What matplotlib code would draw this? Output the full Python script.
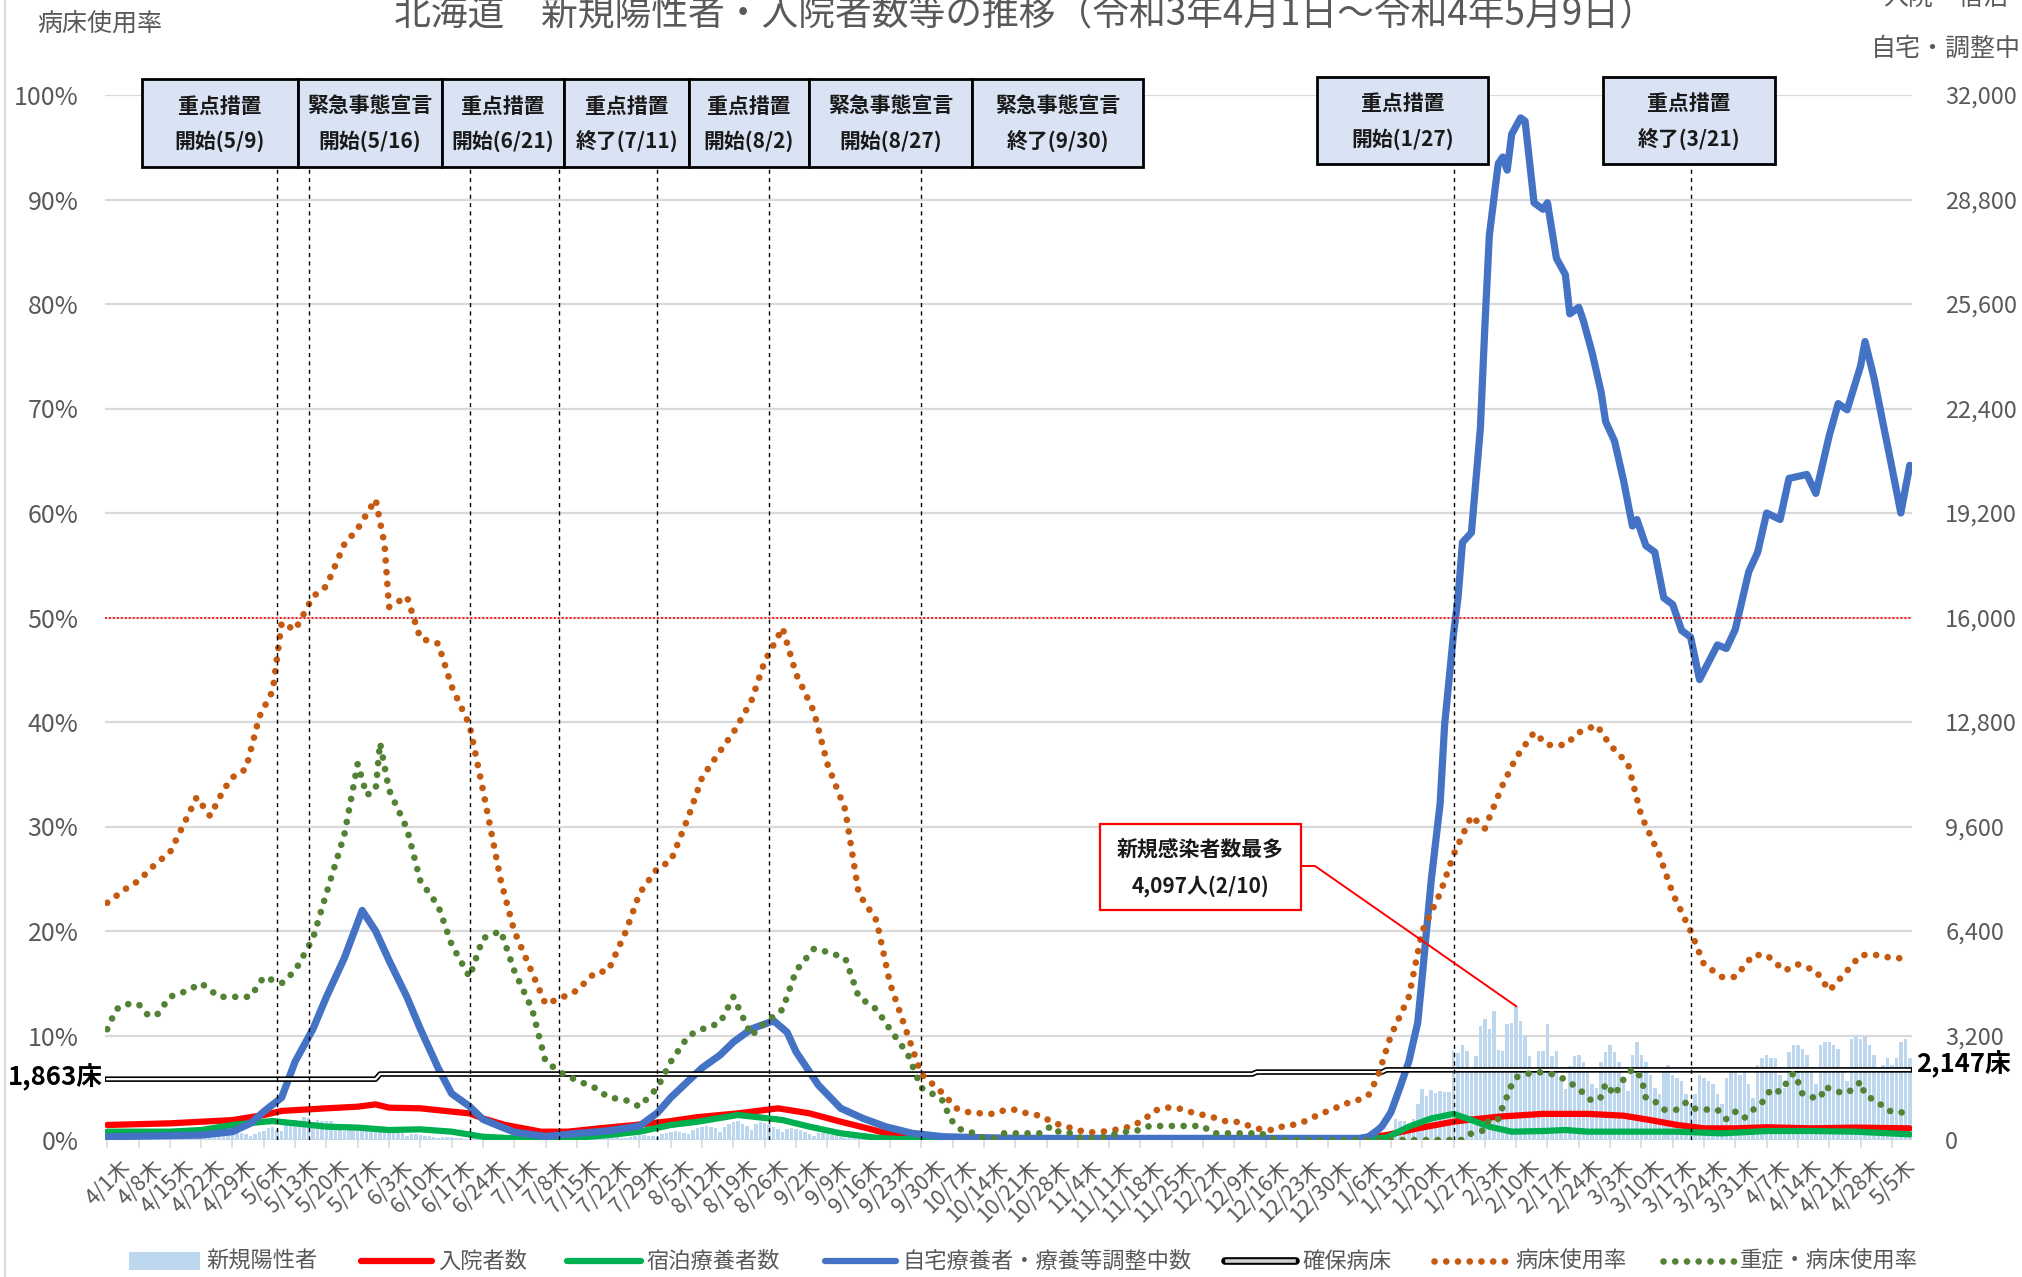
import numpy as np
import pandas as pd
import matplotlib
matplotlib.use("Agg")
import matplotlib.pyplot as plt
import matplotlib.transforms as mtransforms
from matplotlib.patches import Rectangle
from matplotlib.lines import Line2D

plt.rcParams['font.family'] = ['Noto Sans CJK JP', 'DejaVu Sans']

START = pd.Timestamp('2021-04-01')
END = pd.Timestamp('2022-05-09')

TITLE = '北海道　新規陽性者・入院者数等の推移（令和3年4月1日～令和4年5月9日）'

# ---------------- data ----------------
# daily new positives (weeks starting Thursday 4/1)
new_cases_weeks = [
    [60, 71, 77, 61, 43, 93, 105],
    [108, 99, 101, 83, 52, 115, 128],
    [135, 122, 148, 113, 75, 159, 170],
    [176, 164, 175, 140, 109, 197, 221],
    [232, 226, 200, 174, 137, 187, 242],
    [263, 381, 403, 304, 267, 451, 513],
    [600, 555, 712, 660, 404, 623, 568],
    [588, 575, 502, 416, 275, 460, 474],
    [438, 384, 398, 354, 238, 306, 326],
    [303, 276, 254, 203, 133, 182, 191],
    [163, 131, 136, 104, 59, 89, 105],
    [85, 70, 66, 42, 30, 55, 62],
    [58, 55, 41, 30, 21, 37, 45],
    [37, 32, 34, 28, 16, 31, 40],
    [38, 42, 35, 37, 22, 46, 52],
    [56, 64, 48, 41, 30, 62, 74],
    [77, 95, 82, 66, 48, 92, 119],
    [139, 150, 135, 117, 92, 175, 217],
    [243, 270, 231, 206, 170, 301, 374],
    [398, 425, 412, 368, 258, 407, 499],
    [540, 581, 498, 431, 314, 479, 564],
    [527, 478, 412, 346, 230, 336, 382],
    [338, 301, 247, 195, 124, 209, 225],
    [195, 168, 147, 103, 67, 123, 133],
    [115, 94, 76, 52, 36, 54, 66],
    [47, 40, 36, 30, 18, 30, 38],
    [34, 27, 22, 21, 12, 20, 22],
    [20, 18, 15, 11, 8, 15, 16],
    [17, 14, 12, 9, 6, 12, 14],
    [15, 12, 10, 8, 5, 10, 11],
    [12, 9, 8, 7, 4, 9, 10],
    [9, 8, 7, 6, 4, 8, 9],
    [10, 9, 8, 6, 5, 11, 14],
    [16, 18, 20, 15, 11, 22, 25],
    [24, 22, 19, 14, 9, 18, 20],
    [18, 15, 13, 10, 6, 12, 14],
    [12, 10, 9, 7, 5, 9, 10],
    [9, 8, 7, 6, 4, 7, 8],
    [8, 7, 6, 5, 4, 6, 8],
    [10, 9, 12, 8, 6, 18, 25],
    [45, 60, 78, 70, 52, 140, 225],
    [275, 630, 580, 580, 430, 630, 1090],
    [1550, 1350, 1530, 1450, 1500, 1470, 1470],
    [2720, 2670, 2900, 2720, 2160, 2570, 3490],
    [3690, 3390, 3950, 2770, 2720, 3540, 3570],
    [4097, 3640, 3180, 2570, 2160, 2720, 2720],
    [3540, 2570, 2720, 1860, 1550, 2260, 2570],
    [2600, 2400, 2100, 1700, 1600, 2400, 2700],
    [2900, 2700, 2400, 1800, 1500, 2600, 3000],
    [2600, 2400, 2000, 1600, 1400, 2100, 2300],
    [2000, 1900, 1800, 1400, 1100, 1400, 2000],
    [1900, 1800, 1700, 1400, 1100, 1900, 2100],
    [2100, 2000, 2100, 1700, 1300, 2300, 2500],
    [2600, 2500, 2500, 2000, 1600, 2700, 2900],
    [2900, 2800, 2600, 2100, 1700, 2900, 3000],
    [3000, 2900, 2800, 2200, 1800, 3100, 3200],
    [3100, 3200, 2900, 2600, 2100, 2300, 2500],
    [2300, 2500, 3000, 3100, 2500],
]

# 入院者数
hosp_dates = ['2021-04-01', '2021-04-15', '2021-04-29', '2021-05-06', '2021-05-10', '2021-05-20',
              '2021-05-27', '2021-05-31', '2021-06-03', '2021-06-10', '2021-06-17', '2021-06-21',
              '2021-06-24', '2021-06-29', '2021-07-07', '2021-07-13', '2021-07-20', '2021-07-28',
              '2021-08-05', '2021-08-11', '2021-08-20', '2021-08-29', '2021-09-05', '2021-09-12',
              '2021-09-18', '2021-09-23', '2021-09-28', '2021-10-07', '2021-10-21', '2021-11-18',
              '2021-12-16', '2022-01-06', '2022-01-12', '2022-01-19', '2022-01-27', '2022-01-30',
              '2022-02-06', '2022-02-16', '2022-02-26', '2022-03-06', '2022-03-12', '2022-03-18',
              '2022-03-24', '2022-03-31', '2022-04-07', '2022-04-17', '2022-04-27', '2022-05-09']
hosp_vals = [460, 510, 610, 765, 890, 970,
             1020, 1090, 990, 970, 870, 815,
             660, 460, 255, 255, 357, 460,
             580, 700, 816, 970, 816, 560,
             357, 175, 100, 70, 60, 50,
             50, 40, 150, 357, 560, 610,
             714, 800, 800, 745, 610, 460,
             357, 357, 390, 357, 380, 357]

# 宿泊療養者数
hotel_dates = ['2021-04-01', '2021-04-15', '2021-04-22', '2021-04-29', '2021-05-06', '2021-05-08',
               '2021-05-13', '2021-05-20', '2021-05-27', '2021-06-03', '2021-06-10', '2021-06-17',
               '2021-06-24', '2021-07-01', '2021-07-08', '2021-07-15', '2021-07-22', '2021-07-29',
               '2021-08-05', '2021-08-11', '2021-08-20', '2021-08-27', '2021-08-30', '2021-09-05',
               '2021-09-12', '2021-09-20', '2021-09-25', '2021-10-07', '2021-12-20', '2022-01-06',
               '2022-01-12', '2022-01-17', '2022-01-22', '2022-01-27', '2022-01-30', '2022-02-04',
               '2022-02-09', '2022-02-16', '2022-02-21', '2022-02-26', '2022-03-18', '2022-03-28',
               '2022-04-07', '2022-04-17', '2022-04-27', '2022-05-09']
hotel_vals = [255, 255, 306, 460, 560, 580,
              510, 408, 380, 306, 326, 255,
              100, 50, 50, 70, 150, 255,
              460, 560, 765, 660, 610, 408,
              204, 70, 30, 15, 10, 30,
              70, 408, 660, 800, 660, 408,
              255, 275, 306, 255, 255, 204,
              275, 275, 255, 173]

# 自宅療養者・療養等調整中数
home_dates = ['2021-04-01', '2021-04-22', '2021-04-29', '2021-05-03', '2021-05-06', '2021-05-10',
              '2021-05-13', '2021-05-17', '2021-05-20', '2021-05-24', '2021-05-26', '2021-05-28',
              '2021-05-31', '2021-06-03', '2021-06-07', '2021-06-10', '2021-06-14', '2021-06-17',
              '2021-06-21', '2021-06-24', '2021-07-01', '2021-07-08', '2021-07-15', '2021-07-22',
              '2021-07-29', '2021-08-02', '2021-08-05', '2021-08-09', '2021-08-12', '2021-08-16',
              '2021-08-19', '2021-08-23', '2021-08-28', '2021-08-31', '2021-09-02', '2021-09-07',
              '2021-09-12', '2021-09-17', '2021-09-22', '2021-09-28', '2021-10-05', '2021-10-20',
              '2021-12-20', '2022-01-06', '2022-01-08', '2022-01-10', '2022-01-11', '2022-01-13',
              '2022-01-15', '2022-01-17', '2022-01-19', '2022-01-20', '2022-01-22', '2022-01-24',
              '2022-01-25', '2022-01-27', '2022-01-28', '2022-01-29', '2022-01-31', '2022-02-02',
              '2022-02-03', '2022-02-04', '2022-02-06', '2022-02-07', '2022-02-08', '2022-02-09',
              '2022-02-11', '2022-02-12', '2022-02-14', '2022-02-16', '2022-02-17', '2022-02-19',
              '2022-02-21', '2022-02-22', '2022-02-24', '2022-02-25', '2022-02-27', '2022-03-01',
              '2022-03-02', '2022-03-04', '2022-03-06', '2022-03-08', '2022-03-09', '2022-03-11',
              '2022-03-13', '2022-03-15', '2022-03-17', '2022-03-19', '2022-03-21', '2022-03-23',
              '2022-03-27', '2022-03-29', '2022-03-31', '2022-04-03', '2022-04-05', '2022-04-07',
              '2022-04-10', '2022-04-12', '2022-04-16', '2022-04-18', '2022-04-21', '2022-04-23',
              '2022-04-25', '2022-04-28', '2022-04-29', '2022-05-01', '2022-05-03', '2022-05-05',
              '2022-05-07', '2022-05-09']
home_vals = [100, 150, 255, 510, 870, 1300,
             2400, 3400, 4380, 5570, 6300, 7030,
             6400, 5500, 4380, 3400, 2200, 1420,
             1030, 630, 240, 110, 200, 280,
             430, 830, 1300, 1820, 2210, 2600,
             3000, 3400, 3650, 3300, 2700, 1680,
             970, 660, 408, 204, 100, 50,
             50, 50, 100, 300, 420, 850,
             1600, 2400, 3600, 5000, 7940, 10300,
             12700, 15500, 16600, 18300, 18600, 21800,
             24900, 27700, 29900, 30100, 29700, 30800,
             31300, 31200, 28700, 28500, 28700, 27000,
             26500, 25300, 25500, 25100, 24100, 22900,
             22000, 21400, 20200, 18800, 19000, 18200,
             18000, 16600, 16400, 15600, 15400, 14100,
             15160, 15050, 15640, 17400, 18000, 19200,
             19000, 20260, 20380, 19800, 21570, 22550,
             22360, 23700, 24450, 23340, 21960, 20600,
             19200, 20660]

# 確保病床 (step changes)
cap_dates = ['2021-04-01', '2021-06-01', '2021-12-14', '2022-01-12']
cap_vals = [1863, 2020, 2080, 2147]

# 病床使用率 (%)
bed_dates = ['2021-04-01', '2021-04-05', '2021-04-08', '2021-04-12', '2021-04-15', '2021-04-19',
             '2021-04-21', '2021-04-24', '2021-04-27', '2021-04-29', '2021-05-02', '2021-05-05',
             '2021-05-08', '2021-05-10', '2021-05-13', '2021-05-17', '2021-05-20', '2021-05-24',
             '2021-05-27', '2021-05-31', '2021-06-02', '2021-06-03', '2021-06-07', '2021-06-10',
             '2021-06-14', '2021-06-17', '2021-06-21', '2021-06-24', '2021-06-28', '2021-07-01',
             '2021-07-05', '2021-07-08', '2021-07-12', '2021-07-15', '2021-07-19', '2021-07-22',
             '2021-07-26', '2021-07-29', '2021-08-02', '2021-08-05', '2021-08-09', '2021-08-12',
             '2021-08-16', '2021-08-19', '2021-08-23', '2021-08-26', '2021-08-30', '2021-09-02',
             '2021-09-06', '2021-09-09', '2021-09-13', '2021-09-16', '2021-09-20', '2021-09-23',
             '2021-09-27', '2021-09-30', '2021-10-04', '2021-10-08', '2021-10-11', '2021-10-16',
             '2021-10-19', '2021-10-21', '2021-10-24', '2021-10-27', '2021-10-29', '2021-11-01',
             '2021-11-03', '2021-11-06', '2021-11-11', '2021-11-16', '2021-11-19', '2021-11-21',
             '2021-11-24', '2021-11-26', '2021-11-29', '2021-12-01', '2021-12-04', '2021-12-07',
             '2021-12-09', '2021-12-12', '2021-12-15', '2021-12-18', '2021-12-20', '2021-12-23',
             '2021-12-26', '2021-12-28', '2021-12-31', '2022-01-02', '2022-01-05', '2022-01-08',
             '2022-01-10', '2022-01-13', '2022-01-17', '2022-01-20', '2022-01-24', '2022-01-27',
             '2022-01-31', '2022-02-03', '2022-02-07', '2022-02-10', '2022-02-14', '2022-02-17',
             '2022-02-21', '2022-02-24', '2022-02-28', '2022-03-03', '2022-03-07', '2022-03-10',
             '2022-03-14', '2022-03-17', '2022-03-21', '2022-03-24', '2022-03-28', '2022-03-31',
             '2022-04-04', '2022-04-07', '2022-04-11', '2022-04-14', '2022-04-18', '2022-04-21',
             '2022-04-25', '2022-04-28', '2022-05-02', '2022-05-05', '2022-05-09']
bed_vals = [22.7, 24.0, 24.8, 26.5, 27.5, 31.0,
            32.8, 31.0, 33.5, 34.7, 35.5, 40.5,
            43.0, 49.5, 48.8, 52.0, 53.0, 57.0,
            58.5, 61.3, 57.0, 51.0, 52.0, 48.0,
            47.5, 43.4, 39.7, 33.5, 24.8, 20.0,
            16.0, 13.0, 13.7, 14.3, 16.0, 16.2,
            20.0, 23.6, 26.0, 26.7, 31.0, 34.7,
            37.2, 39.0, 42.0, 45.8, 49.0, 44.6,
            41.0, 36.0, 31.6, 23.6, 21.0, 15.0,
            10.0, 6.3, 4.8, 3.0, 2.6, 2.5,
            2.9, 2.9, 2.5, 2.3, 1.75, 1.3,
            1.1, 0.7, 0.85, 1.3, 2.0, 2.8,
            3.1, 3.1, 2.7, 2.5, 2.2, 1.8,
            1.8, 1.4, 1.0, 0.95, 1.35, 1.5,
            2.0, 2.5, 2.9, 3.4, 3.7, 4.3,
            6.0, 10.0, 13.7, 20.0, 23.6, 27.3,
            31.0, 29.8, 34.0, 36.6, 39.0, 37.8,
            37.8, 39.0, 39.7, 37.8, 36.0, 31.0,
            27.3, 23.6, 20.0, 16.8, 15.6, 15.6,
            17.7, 17.7, 16.2, 16.8, 16.2, 14.3,
            16.2, 17.7, 17.7, 17.4, 17.4]

# 重症・病床使用率 (%)
sev_dates = ['2021-04-01', '2021-04-03', '2021-04-05', '2021-04-08', '2021-04-10', '2021-04-12',
             '2021-04-15', '2021-04-19', '2021-04-22', '2021-04-26', '2021-04-29', '2021-05-03',
             '2021-05-06', '2021-05-10', '2021-05-13', '2021-05-17', '2021-05-20', '2021-05-24',
             '2021-05-27', '2021-05-29', '2021-05-31', '2021-06-01', '2021-06-03', '2021-06-07',
             '2021-06-10', '2021-06-14', '2021-06-17', '2021-06-21', '2021-06-24', '2021-06-28',
             '2021-07-01', '2021-07-05', '2021-07-08', '2021-07-12', '2021-07-15', '2021-07-19',
             '2021-07-22', '2021-07-26', '2021-07-29', '2021-08-02', '2021-08-05', '2021-08-09',
             '2021-08-12', '2021-08-16', '2021-08-19', '2021-08-23', '2021-08-26', '2021-08-30',
             '2021-09-02', '2021-09-06', '2021-09-09', '2021-09-13', '2021-09-16', '2021-09-20',
             '2021-09-23', '2021-09-27', '2021-09-30', '2021-10-03', '2021-10-05', '2021-10-06',
             '2021-10-07', '2021-10-09', '2021-10-12', '2021-10-14', '2021-10-16', '2021-10-18',
             '2021-10-27', '2021-10-29', '2021-10-31', '2021-11-03', '2021-11-05', '2021-11-08',
             '2021-11-10', '2021-11-13', '2021-11-15', '2021-11-18', '2021-11-20', '2021-12-02',
             '2021-12-04', '2021-12-15', '2021-12-17', '2021-12-20', '2022-01-29', '2022-01-31',
             '2022-02-03', '2022-02-04', '2022-02-06', '2022-02-07', '2022-02-08', '2022-02-09',
             '2022-02-10', '2022-02-12', '2022-02-15', '2022-02-18', '2022-02-21', '2022-02-24',
             '2022-02-26', '2022-02-27', '2022-03-01', '2022-03-02', '2022-03-04', '2022-03-06',
             '2022-03-08', '2022-03-10', '2022-03-11', '2022-03-13', '2022-03-15', '2022-03-18',
             '2022-03-20', '2022-03-22', '2022-03-25', '2022-03-27', '2022-03-29', '2022-03-31',
             '2022-04-02', '2022-04-04', '2022-04-06', '2022-04-07', '2022-04-08', '2022-04-10',
             '2022-04-12', '2022-04-13', '2022-04-14', '2022-04-15', '2022-04-17', '2022-04-19',
             '2022-04-20', '2022-04-23', '2022-04-25', '2022-04-27', '2022-04-28', '2022-04-29',
             '2022-05-02', '2022-05-04', '2022-05-07', '2022-05-09']
sev_vals = [10.6, 12.5, 13.0, 13.0, 12.0, 11.9,
            13.7, 14.3, 15.0, 13.7, 13.7, 13.7,
            15.6, 15.0, 16.2, 19.3, 23.6, 29.2,
            36.0, 33.0, 33.5, 38.0, 33.5, 29.8,
            24.8, 22.4, 18.7, 15.6, 19.3, 20.0,
            16.2, 12.5, 7.5, 6.3, 5.7, 5.0,
            4.1, 3.8, 3.2, 5.0, 7.5, 10.0,
            10.6, 11.2, 13.7, 10.0, 11.2, 12.5,
            16.2, 18.3, 18.0, 17.4, 13.7, 12.5,
            10.6, 8.2, 5.0, 4.3, 3.7, 2.5,
            1.75, 0.95, 0.64, 0.16, 0.1, 0.64,
            0.64, 1.34, 0.7, 0.64, 0.1, 0.16,
            0.3, 0.64, 0.8, 0.95, 1.34, 1.34,
            0.64, 0.64, 0.16, 0.0, 0.0, 0.64,
            0.95, 2.0, 2.0, 3.2, 4.2, 5.3,
            6.0, 6.3, 6.5, 6.3, 5.8, 4.9,
            4.1, 3.7, 4.1, 5.4, 4.3, 5.8,
            6.8, 6.0, 4.0, 3.7, 2.9, 2.9,
            3.6, 3.0, 2.9, 2.9, 2.0, 2.7,
            2.1, 2.9, 3.6, 4.2, 4.9, 4.6,
            5.8, 6.4, 5.6, 4.4, 4.1, 4.0,
            5.1, 4.6, 4.5, 5.1, 5.6, 4.3,
            3.6, 2.8, 2.7, 2.0]

event_dates = ['2021-05-09', '2021-05-16', '2021-06-21', '2021-07-11', '2021-08-02',
               '2021-08-27', '2021-09-30', '2022-01-27', '2022-03-21']
event_titles = ['重点措置', '緊急事態宣言', '重点措置', '重点措置', '重点措置',
                '緊急事態宣言', '緊急事態宣言', '重点措置', '重点措置']
event_subs = ['開始(5/9)', '開始(5/16)', '開始(6/21)', '終了(7/11)', '開始(8/2)',
              '開始(8/27)', '終了(9/30)', '開始(1/27)', '終了(3/21)']

peak_date = '2022-02-10'
peak_value = 4097
peak_texts = ['新規感染者数最多', '4,097人(2/10)']

legend_labels = ['新規陽性者', '入院者数', '宿泊療養者数', '自宅療養者・療養等調整中数',
                 '確保病床', '病床使用率', '重症・病床使用率']

# ---------------- helpers ----------------
def di(dates):
    return np.array([(pd.Timestamp(d) - START).days for d in dates])

ndays = (END - START).days + 1
xd = np.arange(ndays)
all_days = pd.date_range(START, END)
new_cases = np.array([v for w in new_cases_weeks for v in w])

W, H = 2022, 1277
fig = plt.figure(figsize=(W / 100, H / 100), dpi=100)
fig.patch.set_facecolor('white')

def fx(px):
    return px / W

def fy(py):
    return 1 - py / H

L, R, T, B = 105, 1912, 95, 1140
ax = fig.add_axes([fx(L), fy(B), (R - L) / W, (B - T) / H])
ax2 = ax.twinx()
ax.set_zorder(3)
ax.patch.set_visible(False)
ax2.set_zorder(2)

GRID = '#D9D9D9'
TXT = '#595959'
C_BAR = '#BDD7EE'
C_HOSP = '#FF0000'
C_HOTEL = '#00B050'
C_HOME = '#4472C4'
C_BED = '#C55A11'
C_SEV = '#548235'

ax.set_xlim(-0.5, ndays - 0.5)
ax.set_ylim(0, 1)
ax2.set_ylim(0, 32000)

for v in range(0, 32001, 3200):
    ax2.axhline(v, color=GRID, lw=1.6, zorder=0)

ax2.bar(xd, new_cases, width=0.78, color=C_BAR, linewidth=0, zorder=1)

LW_THICK = 4.5
ax2.plot(di(hotel_dates), hotel_vals, color=C_HOTEL, lw=LW_THICK, zorder=3,
         solid_capstyle='round', solid_joinstyle='round')
ax2.plot(di(hosp_dates), hosp_vals, color=C_HOSP, lw=LW_THICK, zorder=2.9,
         solid_capstyle='round', solid_joinstyle='round')
ax2.plot(di(home_dates), home_vals, color=C_HOME, lw=5.2, zorder=4,
         solid_capstyle='round', solid_joinstyle='round')

cap_x = di(cap_dates)
cap_daily = np.array(cap_vals)[np.searchsorted(cap_x, xd, side='right') - 1]
ax2.plot(xd, cap_daily, color='black', lw=4.0, zorder=5)
ax2.plot(xd, cap_daily, color='white', lw=1.6, zorder=6)

DOT_LW = 4.8
dot_style = (0, (0.01, 1.75))
ax.plot(di(bed_dates), np.array(bed_vals) / 100, color=C_BED, lw=DOT_LW,
        linestyle=dot_style, dash_capstyle='round', zorder=4)
ax.plot(di(sev_dates), np.array(sev_vals) / 100, color=C_SEV, lw=DOT_LW,
        linestyle=dot_style, dash_capstyle='round', zorder=4)
ax.axhline(0.5, color='#FF0000', lw=1.3, linestyle=(0, (1, 1.2)), zorder=2)

for e in di(event_dates):
    ax.plot([e, e], [0, 0.95], color='black', lw=1.0, linestyle=(0, (3, 3)), zorder=6)

# axes styling
for a in (ax, ax2):
    for s in a.spines.values():
        s.set_visible(False)

ax.set_xticks(xd[::7])
ax.set_xticklabels([f"{d.month}/{d.day}木" for d in all_days[::7]])
ax.tick_params(axis='x', length=6, width=1.2, color=GRID, labelsize=15.5,
               labelcolor=TXT, pad=4)
shift = mtransforms.ScaledTranslation(0.13, -0.02, fig.dpi_scale_trans)
for lab in ax.get_xticklabels():
    lab.set_rotation(45)
    lab.set_ha('right')
    lab.set_va('top')
    lab.set_rotation_mode('anchor')
    lab.set_transform(lab.get_transform() + shift)

yt = np.round(np.arange(0, 1.01, 0.1), 2)
ax.set_yticks(yt)
ax.set_yticklabels([f"{int(round(v * 100))}%" for v in yt])
ax.tick_params(axis='y', length=0, pad=19, labelsize=18, labelcolor=TXT)

yt2 = list(range(0, 32001, 3200))
ax2.set_yticks(yt2)
ax2.set_yticklabels([f"{v:,}" for v in yt2])
ax2.tick_params(axis='y', length=0, pad=24, labelsize=17, labelcolor=TXT)

# ---------------- figure texts ----------------
fig.text(fx(1025), fy(15), TITLE, ha='center', va='center', fontsize=26.5, color=TXT)
fig.text(fx(100), fy(24), '病床使用率', ha='center', va='center', fontsize=18, color=TXT)
fig.text(fx(1946), fy(-2), '入院・宿泊', ha='center', va='center', fontsize=18, color=TXT)
fig.text(fx(1946), fy(49), '自宅・調整中', ha='center', va='center', fontsize=18, color=TXT)

fig.add_artist(Line2D([fx(5), fx(5)], [0, 1], color=GRID, lw=1.5))

fig.text(fx(8), fy(1077), f"{cap_vals[0]:,}床", ha='left', va='center', fontsize=18.5,
         color='black', fontweight='bold')
fig.text(fx(1916), fy(1064), f"{cap_vals[-1]:,}床", ha='left', va='center', fontsize=18.5,
         color='black', fontweight='bold')

# event boxes (layout in px)
box_x = [(142, 298), (298, 442), (442, 564), (564, 689), (689, 809), (809, 972),
         (972, 1143), (1317, 1488), (1603, 1775)]
for k, (x0, x1) in enumerate(box_x):
    if k < 7:
        y0, y1, t1, t2 = 79, 167, 106, 141
    else:
        y0, y1, t1, t2 = 77, 164, 103, 139
    fig.add_artist(Rectangle((fx(x0), fy(y1)), (x1 - x0) / W, (y1 - y0) / H,
                             transform=fig.transFigure, facecolor='#DAE3F3',
                             edgecolor='black', lw=2.0, zorder=10))
    cx = (x0 + x1) / 2
    fig.text(fx(cx), fy(t1), event_titles[k], ha='center', va='center', fontsize=15,
             fontweight='bold', color='#1a1a1a', zorder=11)
    fig.text(fx(cx), fy(t2), event_subs[k], ha='center', va='center', fontsize=15,
             fontweight='bold', color='#1a1a1a', zorder=11)

# peak annotation
fig.add_artist(Rectangle((fx(1100), fy(910)), 201 / W, 86 / H, transform=fig.transFigure,
                         facecolor='white', edgecolor='#FF0000', lw=1.6, zorder=10))
fig.text(fx(1200), fy(850), peak_texts[0], ha='center', va='center', fontsize=15,
         fontweight='bold', color='#1a1a1a', zorder=11)
fig.text(fx(1200), fy(886), peak_texts[1], ha='center', va='center', fontsize=15,
         fontweight='bold', color='#1a1a1a', zorder=11)
fig.canvas.draw()
px_end = ax2.transData.transform((di([peak_date])[0], peak_value))
fend = fig.transFigure.inverted().transform(px_end)
fig.add_artist(Line2D([fx(1301), fx(1315), fend[0]], [fy(866), fy(866), fend[1]],
                      color='#FF0000', lw=1.4, zorder=9))

# legend (drawn manually, layout in px)
leg_y = 1261
leg_handles_x = [(129, 200), (361, 432), (567, 641), (825, 896), (1225, 1296),
                 (1434, 1509), (1663, 1734)]
for k, (x0, x1) in enumerate(leg_handles_x):
    xs = [fx(x0), fx(x1)]
    ys = [fy(leg_y), fy(leg_y)]
    if k == 0:
        fig.add_artist(Rectangle((fx(x0), fy(leg_y + 9)), (x1 - x0) / W, 18 / H,
                                 transform=fig.transFigure, facecolor=C_BAR,
                                 edgecolor='none'))
    elif k in (1, 2, 3):
        col = [C_HOSP, C_HOTEL, C_HOME][k - 1]
        fig.add_artist(Line2D(xs, ys, color=col, lw=4.5, solid_capstyle='round'))
    elif k == 4:
        fig.add_artist(Line2D(xs, ys, color='black', lw=5.5, solid_capstyle='round'))
        fig.add_artist(Line2D([fx(x0 + 2), fx(x1 - 2)], ys, color='#D0D0D0', lw=2.6))
    else:
        col = C_BED if k == 5 else C_SEV
        fig.add_artist(Line2D(xs, ys, color=col, lw=DOT_LW, linestyle=dot_style,
                              dash_capstyle='round'))
    fig.text(fx(x1 + 6), fy(leg_y), legend_labels[k], ha='left', va='center',
             fontsize=16, color=TXT)

fig.savefig('out.png', dpi=100, facecolor='white')
